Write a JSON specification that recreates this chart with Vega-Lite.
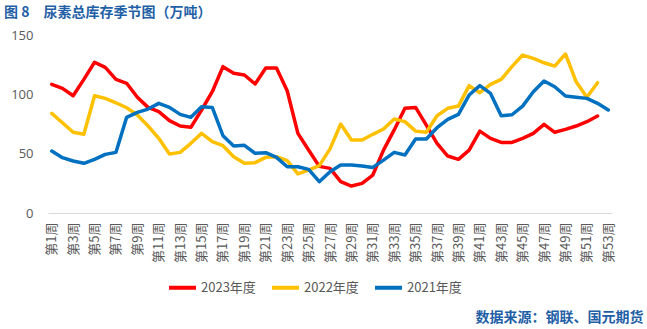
{
  "$schema": "https://vega.github.io/schema/vega-lite/v6.json",
  "width": 564,
  "height": 178,
  "autosize": {"type": "none"},
  "padding": {"left": 48, "top": 35, "right": 35, "bottom": 116},
  "background": "white",
  "config": {
    "view": {"stroke": null},
    "font": "Noto Sans CJK SC"
  },
  "title": {
    "text": "图 8　尿素总库存季节图（万吨）",
    "anchor": "start",
    "frame": "group",
    "dx": -44,
    "offset": 9,
    "fontSize": 14,
    "fontWeight": "bold",
    "color": "#1F5FA6",
    "font": "Noto Sans CJK SC"
  },
  "data": {
    "values": [
      {"w":1,"week":"第1周","year":"2023年度","v":108.4},{"w":2,"week":"第2周","year":"2023年度","v":105},{"w":3,"week":"第3周","year":"2023年度","v":98.8},{"w":4,"week":"第4周","year":"2023年度","v":112.6},{"w":5,"week":"第5周","year":"2023年度","v":127},{"w":6,"week":"第6周","year":"2023年度","v":122.7},{"w":7,"week":"第7周","year":"2023年度","v":112.6},{"w":8,"week":"第8周","year":"2023年度","v":109.3},{"w":9,"week":"第9周","year":"2023年度","v":97.5},{"w":10,"week":"第10周","year":"2023年度","v":89},
      {"w":11,"week":"第11周","year":"2023年度","v":85.4},{"w":12,"week":"第12周","year":"2023年度","v":77.8},{"w":13,"week":"第13周","year":"2023年度","v":73.3},{"w":14,"week":"第14周","year":"2023年度","v":72.2},{"w":15,"week":"第15周","year":"2023年度","v":86.8},{"w":16,"week":"第16周","year":"2023年度","v":102.2},{"w":17,"week":"第17周","year":"2023年度","v":123.3},{"w":18,"week":"第18周","year":"2023年度","v":117.7},{"w":19,"week":"第19周","year":"2023年度","v":116.3},{"w":20,"week":"第20周","year":"2023年度","v":108.7},
      {"w":21,"week":"第21周","year":"2023年度","v":122.2},{"w":22,"week":"第22周","year":"2023年度","v":122.2},{"w":23,"week":"第23周","year":"2023年度","v":103},{"w":24,"week":"第24周","year":"2023年度","v":67.1},{"w":25,"week":"第25周","year":"2023年度","v":53.1},{"w":26,"week":"第26周","year":"2023年度","v":39.3},{"w":27,"week":"第27周","year":"2023年度","v":37.6},{"w":28,"week":"第28周","year":"2023年度","v":26.4},{"w":29,"week":"第29周","year":"2023年度","v":22.7},{"w":30,"week":"第30周","year":"2023年度","v":25},
      {"w":31,"week":"第31周","year":"2023年度","v":32},{"w":32,"week":"第32周","year":"2023年度","v":53},{"w":33,"week":"第33周","year":"2023年度","v":70},{"w":34,"week":"第34周","year":"2023年度","v":88.2},{"w":35,"week":"第35周","year":"2023年度","v":89},{"w":36,"week":"第36周","year":"2023年度","v":74.1},{"w":37,"week":"第37周","year":"2023年度","v":58.7},{"w":38,"week":"第38周","year":"2023年度","v":48},{"w":39,"week":"第39周","year":"2023年度","v":45.2},{"w":40,"week":"第40周","year":"2023年度","v":53},
      {"w":41,"week":"第41周","year":"2023年度","v":69},{"w":42,"week":"第42周","year":"2023年度","v":62.9},{"w":43,"week":"第43周","year":"2023年度","v":59.5},{"w":44,"week":"第44周","year":"2023年度","v":59.5},{"w":45,"week":"第45周","year":"2023年度","v":62.9},{"w":46,"week":"第46周","year":"2023年度","v":67.1},{"w":47,"week":"第47周","year":"2023年度","v":74.7},{"w":48,"week":"第48周","year":"2023年度","v":68},{"w":49,"week":"第49周","year":"2023年度","v":70.5},{"w":50,"week":"第50周","year":"2023年度","v":73.3},
      {"w":51,"week":"第51周","year":"2023年度","v":76.9},{"w":52,"week":"第52周","year":"2023年度","v":81.7},

      {"w":1,"week":"第1周","year":"2022年度","v":84},{"w":2,"week":"第2周","year":"2022年度","v":76.1},{"w":3,"week":"第3周","year":"2022年度","v":68},{"w":4,"week":"第4周","year":"2022年度","v":66.3},{"w":5,"week":"第5周","year":"2022年度","v":98.8},{"w":6,"week":"第6周","year":"2022年度","v":96.6},{"w":7,"week":"第7周","year":"2022年度","v":92.9},{"w":8,"week":"第8周","year":"2022年度","v":88.7},{"w":9,"week":"第9周","year":"2022年度","v":82.6},{"w":10,"week":"第10周","year":"2022年度","v":73.3},
      {"w":11,"week":"第11周","year":"2022年度","v":62.9},{"w":12,"week":"第12周","year":"2022年度","v":49.7},{"w":13,"week":"第13周","year":"2022年度","v":51.1},{"w":14,"week":"第14周","year":"2022年度","v":58.7},{"w":15,"week":"第15周","year":"2022年度","v":67.1},{"w":16,"week":"第16周","year":"2022年度","v":60.1},{"w":17,"week":"第17周","year":"2022年度","v":56.7},{"w":18,"week":"第18周","year":"2022年度","v":47.4},{"w":19,"week":"第19周","year":"2022年度","v":41.9},{"w":20,"week":"第20周","year":"2022年度","v":42.4},
      {"w":21,"week":"第21周","year":"2022年度","v":46.9},{"w":22,"week":"第22周","year":"2022年度","v":47.4},{"w":23,"week":"第23周","year":"2022年度","v":44.1},{"w":24,"week":"第24周","year":"2022年度","v":32.9},{"w":25,"week":"第25周","year":"2022年度","v":36.2},{"w":26,"week":"第26周","year":"2022年度","v":39.9},{"w":27,"week":"第27周","year":"2022年度","v":54},{"w":28,"week":"第28周","year":"2022年度","v":75},{"w":29,"week":"第29周","year":"2022年度","v":61.5},{"w":30,"week":"第30周","year":"2022年度","v":61.5},
      {"w":31,"week":"第31周","year":"2022年度","v":66.3},{"w":32,"week":"第32周","year":"2022年度","v":70.8},{"w":33,"week":"第33周","year":"2022年度","v":79.2},{"w":34,"week":"第34周","year":"2022年度","v":77},{"w":35,"week":"第35周","year":"2022年度","v":69},{"w":36,"week":"第36周","year":"2022年度","v":68},{"w":37,"week":"第37周","year":"2022年度","v":82},{"w":38,"week":"第38周","year":"2022年度","v":88.2},{"w":39,"week":"第39周","year":"2022年度","v":90.1},{"w":40,"week":"第40周","year":"2022年度","v":107.3},
      {"w":41,"week":"第41周","year":"2022年度","v":101.4},{"w":42,"week":"第42周","year":"2022年度","v":108.4},{"w":43,"week":"第43周","year":"2022年度","v":112.6},{"w":44,"week":"第44周","year":"2022年度","v":123.3},{"w":45,"week":"第45周","year":"2022年度","v":133.1},{"w":46,"week":"第46周","year":"2022年度","v":130.3},{"w":47,"week":"第47周","year":"2022年度","v":126.6},{"w":48,"week":"第48周","year":"2022年度","v":123.8},{"w":49,"week":"第49周","year":"2022年度","v":134},{"w":50,"week":"第50周","year":"2022年度","v":110.6},
      {"w":51,"week":"第51周","year":"2022年度","v":97.5},{"w":52,"week":"第52周","year":"2022年度","v":109.8},

      {"w":1,"week":"第1周","year":"2021年度","v":52.2},{"w":2,"week":"第2周","year":"2021年度","v":46.6},{"w":3,"week":"第3周","year":"2021年度","v":43.8},{"w":4,"week":"第4周","year":"2021年度","v":41.9},{"w":5,"week":"第5周","year":"2021年度","v":45.2},{"w":6,"week":"第6周","year":"2021年度","v":49.4},{"w":7,"week":"第7周","year":"2021年度","v":51.1},{"w":8,"week":"第8周","year":"2021年度","v":80.6},{"w":9,"week":"第9周","year":"2021年度","v":84.8},{"w":10,"week":"第10周","year":"2021年度","v":87.6},
      {"w":11,"week":"第11周","year":"2021年度","v":92.4},{"w":12,"week":"第12周","year":"2021年度","v":89},{"w":13,"week":"第13周","year":"2021年度","v":83.1},{"w":14,"week":"第14周","year":"2021年度","v":80.6},{"w":15,"week":"第15周","year":"2021年度","v":89.6},{"w":16,"week":"第16周","year":"2021年度","v":89},{"w":17,"week":"第17周","year":"2021年度","v":65.1},{"w":18,"week":"第18周","year":"2021年度","v":56.4},{"w":19,"week":"第19周","year":"2021年度","v":57},{"w":20,"week":"第20周","year":"2021年度","v":50.3},
      {"w":21,"week":"第21周","year":"2021年度","v":50.8},{"w":22,"week":"第22周","year":"2021年度","v":46.9},{"w":23,"week":"第23周","year":"2021年度","v":39},{"w":24,"week":"第24周","year":"2021年度","v":39},{"w":25,"week":"第25周","year":"2021年度","v":36.8},{"w":26,"week":"第26周","year":"2021年度","v":26.4},{"w":27,"week":"第27周","year":"2021年度","v":34.8},{"w":28,"week":"第28周","year":"2021年度","v":40.4},{"w":29,"week":"第29周","year":"2021年度","v":40.4},{"w":30,"week":"第30周","year":"2021年度","v":39.6},
      {"w":31,"week":"第31周","year":"2021年度","v":38.4},{"w":32,"week":"第32周","year":"2021年度","v":44.6},{"w":33,"week":"第33周","year":"2021年度","v":51.1},{"w":34,"week":"第34周","year":"2021年度","v":48.9},{"w":35,"week":"第35周","year":"2021年度","v":62.3},{"w":36,"week":"第36周","year":"2021年度","v":62.3},{"w":37,"week":"第37周","year":"2021年度","v":71.9},{"w":38,"week":"第38周","year":"2021年度","v":78.9},{"w":39,"week":"第39周","year":"2021年度","v":83.1},{"w":40,"week":"第40周","year":"2021年度","v":99.4},
      {"w":41,"week":"第41周","year":"2021年度","v":107.3},{"w":42,"week":"第42周","year":"2021年度","v":100.8},{"w":43,"week":"第43周","year":"2021年度","v":82},{"w":44,"week":"第44周","year":"2021年度","v":82.8},{"w":45,"week":"第45周","year":"2021年度","v":90.1},{"w":46,"week":"第46周","year":"2021年度","v":102.2},{"w":47,"week":"第47周","year":"2021年度","v":111.2},{"w":48,"week":"第48周","year":"2021年度","v":106.4},{"w":49,"week":"第49周","year":"2021年度","v":98.6},{"w":50,"week":"第50周","year":"2021年度","v":97.5},
      {"w":51,"week":"第51周","year":"2021年度","v":96.6},{"w":52,"week":"第52周","year":"2021年度","v":92.4},{"w":53,"week":"第53周","year":"2021年度","v":86.8}
    ]
  },
  "mark": {"type": "line", "strokeWidth": 3.5, "strokeJoin": "round", "strokeCap": "round"},
  "encoding": {
    "x": {
      "field": "week",
      "type": "nominal",
      "sort": {"field": "w", "op": "min"},
      "scale": {"type": "point", "padding": 0.35},
      "axis": {
        "values": ["第1周","第3周","第5周","第7周","第9周","第11周","第13周","第15周","第17周","第19周","第21周","第23周","第25周","第27周","第29周","第31周","第33周","第35周","第37周","第39周","第41周","第43周","第45周","第47周","第49周","第51周","第53周"],
        "labelAngle": -90,
        "labelFontSize": 13,
        "labelColor": "#595959",
        "labelPadding": 9,
        "ticks": false,
        "grid": false,
        "domainColor": "#D9D9D9",
        "domainWidth": 1,
        "title": "数据来源：钢联、国元期货",
        "titleAnchor": "end",
        "titleAlign": "right",
        "titleBaseline": "middle",
        "titleX": 595,
        "titleY": 104,
        "titleFontSize": 14,
        "titleFontWeight": "bold",
        "titleColor": "#1F5FA6",
        "labelFlush": false,
        "labelOverlap": false
      }
    },
    "y": {
      "field": "v",
      "type": "quantitative",
      "scale": {"domain": [0, 150], "nice": false},
      "axis": {
        "values": [0, 50, 100, 150],
        "title": null,
        "grid": false,
        "domain": false,
        "ticks": false,
        "labelFontSize": 13,
        "labelColor": "#595959",
        "labelPadding": 15,
        "labelFont": "Open Sans"
      }
    },
    "color": {
      "field": "year",
      "type": "nominal",
      "sort": ["2023年度", "2022年度", "2021年度"],
      "scale": {"domain": ["2023年度", "2022年度", "2021年度"], "range": ["#FF0000", "#FFC000", "#0070C0"]},
      "legend": {
        "title": null,
        "orient": "none",
        "direction": "horizontal",
        "legendX": 119,
        "legendY": 237,
        "padding": 0,
        "symbolType": "stroke",
        "symbolSize": 729,
        "symbolStrokeWidth": 4,
        "labelFontSize": 13,
        "labelColor": "#595959",
        "labelOffset": 3,
        "columnPadding": 8
      }
    }
  }
}
